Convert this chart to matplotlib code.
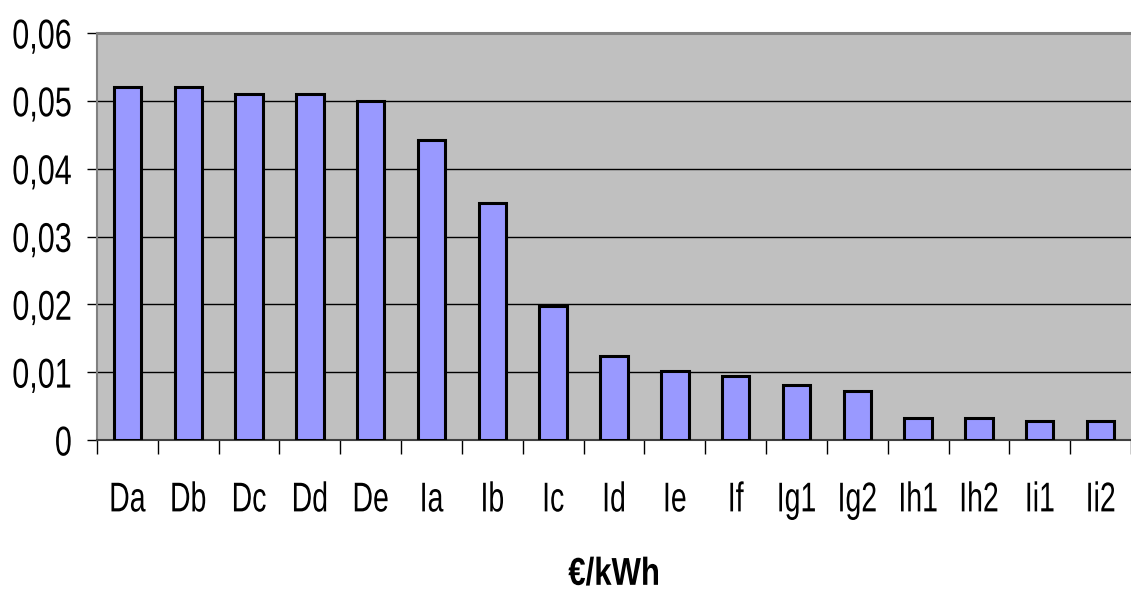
import matplotlib.pyplot as plt
import numpy as np
from matplotlib.patheffects import AbstractPathEffect
from matplotlib.transforms import Affine2D
from matplotlib.ticker import FixedLocator, FuncFormatter

# data
labels = ['Da', 'Db', 'Dc', 'Dd', 'De', 'Ia', 'Ib', 'Ic', 'Id', 'Ie', 'If',
          'Ig1', 'Ig2', 'Ih1', 'Ih2', 'Ii1', 'Ii2']
values = [0.052, 0.052, 0.051, 0.051, 0.050, 0.0442, 0.035, 0.0197, 0.0124,
          0.0101, 0.0095, 0.0081, 0.0072, 0.0033, 0.0033, 0.0028, 0.0028]


# the reference uses a tall narrow Arial; stretch the glyphs vertically
# (path units: 100 per em, baseline at y=0)
class Tall(AbstractPathEffect):
    def __init__(self, sy, y0=0.0):
        super().__init__()
        self.sy = sy
        self.y0 = y0

    def draw_path(self, renderer, gc, tpath, affine, rgbFace=None):
        t = Affine2D().translate(0, -self.y0).scale(1, self.sy).translate(0, self.y0) + affine
        renderer.draw_path(gc, tpath, t, rgbFace)


plt.rcParams['font.family'] = ['Liberation Sans', 'DejaVu Sans']

fig = plt.figure(figsize=(11.31, 5.94), dpi=100)
ax = fig.add_axes([97 / 1131, 154 / 594, 1 - 97 / 1131, (440 - 33) / 594])

x = np.arange(len(labels))
ax.set_facecolor('#C0C0C0')
ax.bar(x, values, width=0.45, color='#9999FF', edgecolor='black', linewidth=2.2, zorder=3)

ax.set_xlim(-0.5, len(labels) - 0.5)
ax.set_ylim(0, 0.06)
ax.set_yticks(np.arange(0, 0.061, 0.01))
ax.yaxis.set_major_formatter(FuncFormatter(lambda v, p: '0' if abs(v) < 1e-9 else f'{v:.2f}'.replace('.', ',')))
ax.grid(axis='y', color='black', linewidth=1.0, zorder=1)

ax.set_xticks(x)
ax.set_xticklabels(labels)
ax.xaxis.set_minor_locator(FixedLocator(np.arange(-0.5, len(labels), 1.0)))
ax.tick_params(axis='x', which='major', length=0, pad=37, labelsize=20.5)
ax.tick_params(axis='x', which='minor', length=10, width=1.0, color='black')
ax.tick_params(axis='y', length=7, width=1.0, pad=11, labelsize=22)

for side in ['left', 'bottom', 'top']:
    ax.spines[side].set_color('#808080')
    ax.spines[side].set_linewidth(1.5)
ax.spines['top'].set_linewidth(2.2)
ax.spines['bottom'].set_color('#404040')
ax.spines['right'].set_visible(False)

xl = ax.set_xlabel('€/kWh', fontsize=22.4, fontweight='bold', labelpad=32)
xl.set_path_effects([Tall(1.25)])

for t in ax.get_xticklabels():
    t.set_path_effects([Tall(1.46)])
for t in ax.get_yticklabels():
    t.set_path_effects([Tall(1.36, 35.8)])

fig.savefig('out.png', dpi=100)
